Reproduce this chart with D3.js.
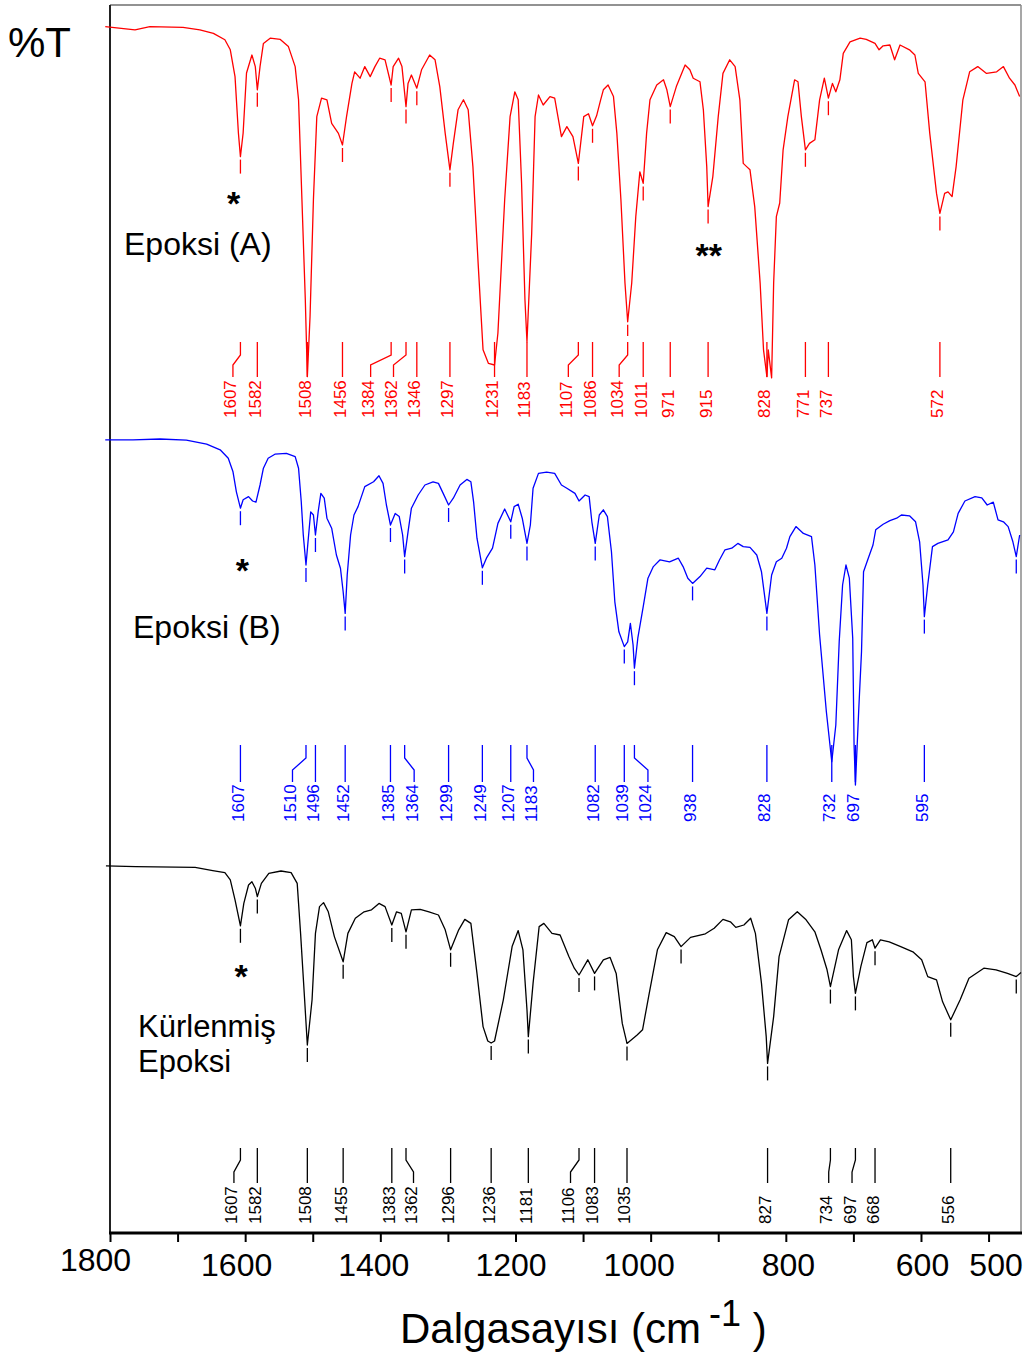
<!DOCTYPE html>
<html>
<head>
<meta charset="utf-8">
<script src="https://cdn.jsdelivr.net/npm/d3@7"></script>
<style>
  html, body { margin: 0; padding: 0; background: #fff; }
  svg { display: block; }
</style>
</head>
<body>
<svg id="chart" width="1029" height="1352"></svg>
<script>
// FTIR spectra: [wavenumber (cm-1), %T within its own stacked band]
const epoksiA = [[1807,96.6],[1763,95.8],[1741,96.6],[1692,96.4],[1667,95.8],[1647,94.9],[1630,93.3],[1622,90.8],[1615,84.1],[1610,70],[1607,64.1],[1603,70],[1598,85],[1590,89.5],[1585,86.6],[1582,80.8],[1578,86.6],[1573,92.4],[1563,93.7],[1548,93.4],[1536,91.6],[1526,86.6],[1521,78.3],[1516,53.3],[1511,28.3],[1508,9.1],[1504,24.1],[1499,53.3],[1494,74.1],[1487,78.7],[1479,78.3],[1472,72.4],[1462,69.9],[1456,67],[1450,74.1],[1442,82.4],[1438,85.3],[1430,83.7],[1423,86.6],[1415,84.1],[1408,86.6],[1401,88.7],[1393,88.3],[1384,82],[1381,86.6],[1373,88.7],[1368,86.6],[1362,76.6],[1359,82.4],[1354,84.5],[1346,81.2],[1339,85.8],[1327,89.5],[1319,88.3],[1312,81.6],[1304,69.9],[1297,60.8],[1292,67.4],[1285,75.8],[1277,78.3],[1270,75.8],[1263,61.6],[1255,36.6],[1248,15.8],[1240,12.4],[1231,12],[1226,20],[1216,53.3],[1208,74.1],[1201,80.3],[1196,78.3],[1191,57.5],[1186,28.3],[1183,17.8],[1176,45],[1171,74.1],[1166,79.5],[1159,77],[1149,79.1],[1142,78.7],[1132,69.1],[1124,71.6],[1115,69.1],[1107,62.4],[1099,74.1],[1092,74.8],[1086,71.8],[1080,74.3],[1074,78.3],[1070,80.8],[1063,82],[1055,79.1],[1050,69.9],[1044,53.3],[1038,32.5],[1034,22.8],[1028,32.5],[1022,49.1],[1016,60.3],[1011,57.4],[1006,69.9],[1001,78.3],[991,82],[981,83.3],[976,80.8],[971,76.6],[962,81.6],[949,87],[942,85.8],[937,83.7],[927,82.8],[922,75.8],[917,61.6],[915,51.6],[908,59.1],[900,74.1],[893,84.9],[883,88.3],[875,86.6],[868,78.3],[863,62.4],[858,61.6],[853,60.8],[846,51.6],[838,32.5],[833,15.8],[828,9.1],[826,15.8],[821,8.8],[818,32.5],[814,49.1],[809,52.5],[804,65.8],[797,74.1],[787,83.3],[782,82.8],[777,74.1],[771,65.8],[765,67.4],[757,68.3],[750,78.3],[743,83.7],[737,78.7],[731,82.4],[726,80.3],[720,83.3],[715,89.9],[705,92.8],[690,93.7],[681,93.4],[668,92.4],[662,90.8],[656,91.8],[646,92],[639,88.3],[631,92],[617,90.8],[609,89.5],[604,84.9],[594,82.8],[587,69.9],[577,54.9],[572,49.9],[565,54.9],[560,55.3],[554,54.1],[548,61.6],[538,78.3],[528,85.3],[516,86.6],[503,84.9],[488,85.3],[478,86.6],[469,83.7],[461,82],[454,79.1]];

const epoksiB = [[1807,98.3],[1766,98.3],[1726,98.5],[1687,98.2],[1657,97.2],[1637,95.8],[1625,93.7],[1618,90.3],[1613,85.3],[1607,81.2],[1603,83.3],[1595,84.1],[1589,83],[1584,82.7],[1578,87],[1573,91.2],[1566,93.7],[1556,94.7],[1539,94.9],[1526,94.1],[1521,91.2],[1517,82.8],[1514,74.5],[1510,67],[1507,72.8],[1503,80.3],[1499,79.5],[1496,74.5],[1492,80.3],[1488,84.9],[1483,83.7],[1479,78.7],[1472,76.2],[1465,69.5],[1459,66.2],[1455,60.3],[1452,54.9],[1449,64.5],[1444,74.5],[1439,79.5],[1433,81.6],[1423,86.6],[1410,87.8],[1402,89.3],[1396,87.4],[1391,82],[1385,77],[1378,79.9],[1372,79.1],[1367,74.5],[1364,69.1],[1359,75.3],[1354,81.2],[1344,84.5],[1334,87],[1322,87.8],[1314,87.4],[1307,84.9],[1299,82],[1292,83.7],[1282,87],[1272,88.4],[1266,87.8],[1262,82.8],[1257,73.7],[1249,66.3],[1243,68.7],[1234,71.2],[1226,77.4],[1216,81],[1207,77.8],[1202,81.6],[1196,82.2],[1190,78.7],[1183,72.4],[1178,77],[1174,86.2],[1166,89.9],[1154,90.2],[1142,89.9],[1132,87],[1124,86.2],[1112,84.9],[1106,83],[1097,84.5],[1091,84.1],[1087,77.8],[1082,72.4],[1076,79.5],[1070,80.8],[1064,79.1],[1058,70.3],[1053,57.8],[1047,50.3],[1039,46.6],[1034,47.8],[1030,52.4],[1026,47],[1024,41.2],[1019,48.7],[1011,56.6],[1004,63.7],[996,66.6],[986,68.3],[972,67.8],[959,68.7],[952,66.6],[945,63.7],[938,62.4],[927,64.1],[917,66.2],[905,65.8],[898,68.3],[890,70.8],[880,71.2],[871,72.4],[863,71.6],[853,71.4],[843,69.5],[836,65.3],[828,54.9],[821,64.5],[814,67.8],[806,68.7],[799,71.2],[794,74.1],[785,76.6],[774,74.9],[762,74.1],[757,67],[750,49.5],[740,30.3],[732,17.8],[726,27],[721,47.8],[716,62],[711,67],[706,63.7],[701,48.7],[699,22],[697,12],[692,31.2],[688,45.3],[685,65.3],[678,68.7],[671,72],[667,75.8],[656,77.2],[646,78.1],[636,78.7],[629,79.5],[617,79.3],[608,77.8],[602,72.8],[597,62],[595,54.1],[590,62],[583,71.6],[575,72.4],[560,73.3],[552,75.3],[545,79.9],[535,83],[520,84.1],[510,83.8],[502,82],[493,82.7],[486,78.3],[478,77.8],[471,76.6],[464,72.8],[459,69.1],[454,74.5]];

const kurlenmis = [[1806,91.8],[1762,91.6],[1674,91.4],[1648,90.6],[1630,90.1],[1622,88.3],[1615,83.3],[1607,76.8],[1602,82.4],[1595,87],[1590,87.8],[1585,86.2],[1582,84.1],[1576,87.4],[1565,89.9],[1547,90.5],[1532,90.1],[1523,87.4],[1518,74.9],[1512,58.3],[1508,47],[1501,58.3],[1496,74.9],[1490,81.6],[1484,82.6],[1477,80.3],[1468,74.1],[1455,67.8],[1448,74.9],[1437,78.7],[1424,80.3],[1413,80.8],[1402,82.4],[1393,81.6],[1383,77],[1376,80.3],[1369,79.9],[1362,75.3],[1354,80.8],[1341,80.9],[1328,80.3],[1314,79.5],[1304,75.8],[1296,70.8],[1284,75.8],[1275,78.4],[1266,77.4],[1257,64.9],[1248,51.6],[1241,48],[1236,47.5],[1231,48],[1218,58.3],[1205,71.6],[1196,75.6],[1189,70.8],[1183,55.8],[1181,49.1],[1174,62.4],[1165,76.6],[1158,77.4],[1146,74.9],[1134,74.5],[1121,69.1],[1113,66.2],[1106,64.5],[1093,68.3],[1083,64.9],[1070,68.3],[1060,68.9],[1051,64.9],[1042,52.4],[1035,47.4],[1020,49.5],[1012,50.8],[1003,59.1],[990,70.8],[977,75.1],[965,74.1],[955,71.6],[941,73.9],[919,74.8],[906,76.2],[893,78.4],[882,77.8],[874,76.4],[862,77],[852,78.7],[845,74.9],[836,62.4],[829,49.1],[827,42.4],[818,54.1],[810,69.1],[796,78.3],[783,80.3],[770,78.3],[757,75.3],[748,70.8],[739,65.8],[734,61.6],[722,70.8],[710,75.6],[703,73.3],[700,64.1],[697,59.9],[689,66.6],[680,72.6],[672,73.3],[668,71.2],[660,73.3],[647,72.8],[630,71.6],[612,70.3],[599,68.3],[590,64.1],[577,63.3],[568,57.8],[556,53.3],[542,58.3],[529,63.7],[507,66.2],[489,65.8],[472,64.9],[459,64.1],[452,65.1]];

// Assigned band positions (cm-1)
const peaksA = [1607,1582,1508,1456,1384,1362,1346,1297,1231,1183,1107,1086,1034,1011,971,915,828,771,737,572];
const peaksB = [1607,1510,1496,1452,1385,1364,1299,1249,1207,1183,1082,1039,1024,938,828,732,697,595];
const peaksC = [1607,1582,1508,1455,1383,1362,1296,1236,1181,1106,1083,1035,827,734,697,668,556];
// Marked minima without a printed value
const minorA = [];
const minorB = [459];
const minorC = [955, 459];

// X axis
const xTicks = [1800,1700,1600,1500,1400,1300,1200,1100,1000,900,800,700,600,500];
const xTickLabels = [1800,1600,1400,1200,1000,800,600,500];

// ---- layout ----
const W = 1029, H = 1352;
const plot = { left: 110, right: 1021, top: 5, bottom: 1233 };
const FONT = "Arial, 'Liberation Sans', Helvetica, sans-serif";

const x = d3.scaleLinear().domain([1800, 452]).range([plot.left, plot.right]);
const y = d3.scaleLinear().domain([0, 307]).range([plot.bottom, plot.top]);

// hand placement of the tick numerals (px)
const tickLabelShift = { 1800: [-15, -5], 1600: [-9, 0], 1400: [-7, 0], 1200: [-5, 0],
                         1000: [-12, 0], 800: [2, 0], 600: [1, 0], 500: [7, 0] };

// leader-line lanes and side nudges for crowded labels (px)
const series = [
  { data: epoksiA, offset: 205, color: "#ff0000", peaks: peaksA, minor: minorA,
    lane: { top: 342, k1: 355, k2: 365, bottom: 377, text: 418 },
    nudge: { 1607: -7.5, 1384: -20.5, 1362: -12.5, 1107: -10, 1034: -8.5 } },
  { data: epoksiB, offset: 100, color: "#0000ff", peaks: peaksB, minor: minorB,
    lane: { top: 745, k1: 758, k2: 770, bottom: 782, text: 822 },
    nudge: { 1510: -13.5, 1364: 9.5, 1183: 6.5, 1024: 13.5 } },
  { data: kurlenmis, offset: 0, color: "#000000", peaks: peaksC, minor: minorC,
    lane: { top: 1148, k1: 1160, k2: 1172, bottom: 1183, text: 1224 },
    nudge: { 1607: -6.5, 1362: 7.5, 1106: -8.5, 734: -1.7, 697: -3.4 } }
];

const svg = d3.select("#chart");
svg.append("rect").attr("width", W).attr("height", H).attr("fill", "#fff");

// frame
svg.append("line").attr("x1", plot.left).attr("x2", plot.right)
  .attr("y1", plot.top).attr("y2", plot.top)
  .attr("stroke", "#6e6e6e").attr("stroke-width", 1.5);
svg.append("line").attr("x1", plot.right).attr("x2", plot.right)
  .attr("y1", plot.top).attr("y2", plot.bottom)
  .attr("stroke", "#8a8a8a").attr("stroke-width", 1.5);
svg.append("line").attr("x1", plot.left).attr("x2", plot.left)
  .attr("y1", plot.top).attr("y2", plot.bottom)
  .attr("stroke", "#222").attr("stroke-width", 2);

// interpolated %T of a spectrum at a given wavenumber
function valueAt(data, wn) {
  for (let i = 0; i < data.length - 1; i++) {
    const a = data[i], b = data[i + 1];
    if (wn <= a[0] && wn >= b[0]) {
      const t = (a[0] - wn) / (a[0] - b[0] || 1);
      return a[1] + t * (b[1] - a[1]);
    }
  }
  return data[data.length - 1][1];
}

const line = d3.line();

series.forEach(s => {
  const g = svg.append("g");
  const px = d => x(d[0]);
  const py = d => y(d[1] + s.offset);

  // spectrum trace
  g.append("path")
    .datum(s.data)
    .attr("d", d3.line().x(px).y(py))
    .attr("fill", "none")
    .attr("stroke", s.color)
    .attr("stroke-width", 1.3)
    .attr("stroke-linejoin", "round");

  // short marks under each assigned minimum
  s.peaks.concat(s.minor).forEach(p => {
    const ym = y(valueAt(s.data, p) + s.offset);
    const y1 = ym + 3;
    const y2 = Math.min(ym + 17, s.lane.top - 6);
    if (y2 - y1 > 4) {
      g.append("line")
        .attr("x1", x(p)).attr("x2", x(p))
        .attr("y1", y1).attr("y2", y2)
        .attr("stroke", s.color).attr("stroke-width", 1.3);
    }
  });

  // leader lines and rotated values
  s.peaks.forEach(p => {
    const xp = x(p);
    const xl = xp + (s.nudge[p] || 0);
    const pts = [[xp, s.lane.top], [xp, s.lane.k1], [xl, s.lane.k2], [xl, s.lane.bottom]];
    g.append("path")
      .attr("d", line(pts))
      .attr("fill", "none")
      .attr("stroke", s.color)
      .attr("stroke-width", 1.3);
    g.append("text")
      .attr("transform", `translate(${xl + 3.5},${s.lane.text}) rotate(-90)`)
      .attr("font-family", FONT)
      .attr("font-size", 17)
      .attr("fill", s.color)
      .text(p);
  });
});

// x axis
const axisG = svg.append("g").attr("transform", `translate(0,${plot.bottom})`);
axisG.call(
  d3.axisBottom(x)
    .tickValues(xTicks)
    .tickSize(9)
    .tickPadding(11)
    .tickFormat(d => xTickLabels.includes(d) ? d : "")
);
axisG.select(".domain").remove();
axisG.selectAll(".tick line").attr("stroke", "#000").attr("stroke-width", 2);
axisG.selectAll(".tick text")
  .attr("font-family", FONT)
  .attr("font-size", 32)
  .attr("fill", "#000")
  .attr("dx", d => (tickLabelShift[d] || [0, 0])[0])
  .attr("transform", d => `translate(0,${(tickLabelShift[d] || [0, 0])[1]})`);
svg.append("line")
  .attr("x1", plot.left - 1).attr("x2", plot.right + 1)
  .attr("y1", plot.bottom).attr("y2", plot.bottom)
  .attr("stroke", "#000").attr("stroke-width", 3);

// axis titles
svg.append("text")
  .attr("x", 8).attr("y", 57)
  .attr("font-family", FONT).attr("font-size", 42)
  .text("%T");

const title = svg.append("text")
  .attr("x", 400).attr("y", 1343)
  .attr("font-family", FONT).attr("font-size", 42);
title.append("tspan").text("Dalgasayısı (cm");
title.append("tspan").attr("dx", 8).attr("dy", -17).attr("font-size", 36).text("-1");
title.append("tspan").attr("dy", 17).attr("font-size", 42).text(" )");

// spectrum names
const names = [
  { lines: ["Epoksi (A)"], x: 124, y: 255, size: 32 },
  { lines: ["Epoksi (B)"], x: 133, y: 638, size: 32 },
  { lines: ["Kürlenmiş", "Epoksi"], x: 138, y: 1037, size: 31 }
];
names.forEach(n => {
  n.lines.forEach((t, i) => {
    svg.append("text")
      .attr("x", n.x).attr("y", n.y + i * 35)
      .attr("font-family", FONT).attr("font-size", n.size)
      .attr("fill", "#000")
      .text(t);
  });
});

// asterisk markers (band at 1607 and 915 cm-1)
const stars = [
  { t: "*", wn: 1617, y: 215 },
  { t: "*", wn: 1604, y: 582 },
  { t: "*", wn: 1606, y: 988 },
  { t: "**", wn: 914, y: 267 }
];
stars.forEach(s => {
  svg.append("text")
    .attr("x", x(s.wn)).attr("y", s.y)
    .attr("text-anchor", "middle")
    .attr("font-family", FONT).attr("font-size", 34).attr("font-weight", "bold")
    .text(s.t);
});
</script>
</body>
</html>
